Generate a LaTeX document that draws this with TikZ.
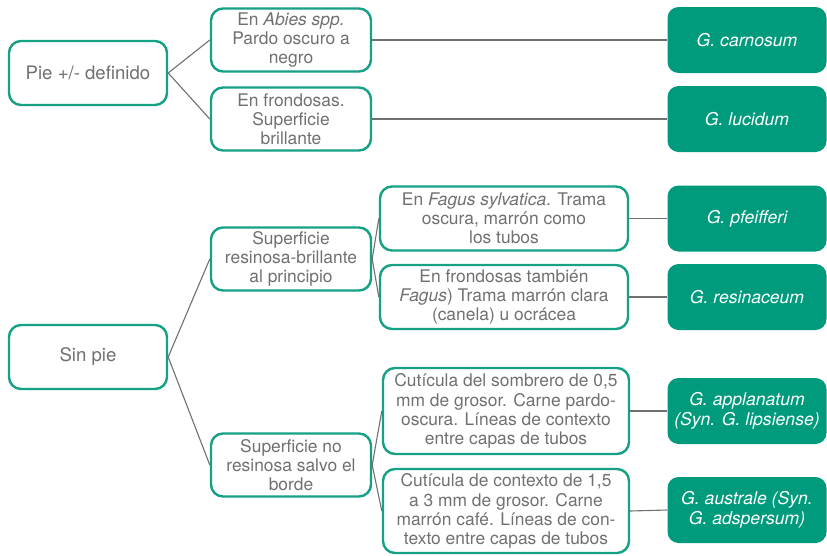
\documentclass[tikz,border=0pt]{standalone}
\usepackage{fontspec}
\setmainfont{TeX Gyre Heros}
\definecolor{verde}{HTML}{16A085}
\definecolor{verdeosc}{HTML}{009B7D}
\definecolor{gris}{HTML}{707070}
\begin{document}
\begin{tikzpicture}[x=1pt,y=-1pt,
  clave/.style={draw=verde, line width=2.4pt, rounded corners=12pt, fill=white, text=gris,
    align=center, inner sep=0pt, font=\fontsize{17.4}{19.2}\selectfont},
  raiz/.style={clave, minimum width=158pt, minimum height=64pt, font=\fontsize{18.6}{20}\selectfont},
  especie/.style={fill=verdeosc, rounded corners=11pt, text=white, align=center, inner sep=0pt,
    minimum width=159pt, minimum height=66pt, font=\fontsize{17.6}{19.5}\selectfont\itshape},
  rama/.style={draw=gris, line width=1.1pt}]
\useasboundingbox (0,0) rectangle (827,555);
% con pie
\node[raiz] (pie) at (88,73) {Pie +/- definido};
\node[clave, minimum width=160pt, minimum height=63pt] (abies) at (291,40) {En \textit{Abies spp.}\\Pardo oscuro a\\negro};
\node[clave, minimum width=160pt, minimum height=63pt] (frond) at (291,119) {En frondosas.\\Superficie\\brillante};
\node[especie] (carnosum) at (747,40) {G. carnosum};
\node[especie] (lucidum) at (747,119) {G. lucidum};
\draw[rama] (pie.east) -- (abies.west);
\draw[rama] (pie.east) -- (frond.west);
\draw[rama] (abies.east) -- (carnosum.west);
\draw[rama] (frond.east) -- (lucidum.west);
% sin pie
\node[raiz] (sinpie) at (88,357) {Sin pie};
\node[clave, minimum width=160pt, minimum height=63pt] (resinosa) at (291,259) {Superficie\\resinosa-brillante\\al principio};
\node[clave, minimum width=160pt, minimum height=63pt] (noresin) at (291,465) {Superficie no\\resinosa salvo el\\borde};
\node[clave, minimum width=248pt, minimum height=64pt] (fagus) at (504,218.5) {En \textit{Fagus sylvatica}. Trama\\oscura, marrón como\\los tubos};
\node[clave, minimum width=248pt, minimum height=64pt] (tambien) at (504,297) {En frondosas también\\\textit{Fagus}) Trama marrón clara\\(canela) u ocrácea};
\node[clave, minimum width=246pt, minimum height=86pt] (cut05) at (506,411) {Cutícula del sombrero de 0,5\\mm de grosor. Carne pardo-\\oscura. Líneas de contexto\\entre capas de tubos};
\node[clave, minimum width=246pt, minimum height=84pt] (cut15) at (506,511) {Cutícula de contexto de 1,5\\a 3 mm de grosor. Carne\\marrón café. Líneas de con-\\texto entre capas de tubos};
\node[especie] (pfeifferi) at (747,218.5) {G. pfeifferi};
\node[especie] (resinaceum) at (747,297) {G. resinaceum};
\node[especie] (applanatum) at (747,411) {G. applanatum\\(Syn. G. lipsiense)};
\node[especie] (australe) at (747,510) {G. australe (Syn.\\G. adspersum)};
\draw[rama] (sinpie.east) -- (resinosa.west);
\draw[rama] (sinpie.east) -- (noresin.west);
\draw[rama] (resinosa.east) -- (fagus.west);
\draw[rama] (resinosa.east) -- (tambien.west);
\draw[rama] (noresin.east) -- (cut05.west);
\draw[rama] (noresin.east) -- (cut15.west);
\draw[rama] (fagus.east) -- (pfeifferi.west);
\draw[rama] (tambien.east) -- (resinaceum.west);
\draw[rama] (cut05.east) -- (applanatum.west);
\draw[rama] (cut15.east) -- (australe.west);
\end{tikzpicture}
\end{document}
